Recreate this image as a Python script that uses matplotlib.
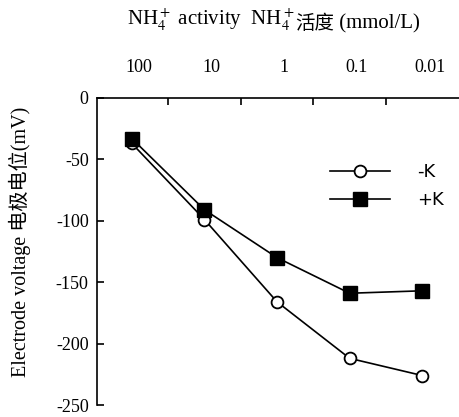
import matplotlib.pyplot as plt

plt.rcParams['mathtext.fontset'] = 'stix'
plt.rcParams['axes.unicode_minus'] = False

conc_labels = ['100', '10', '1', '0.1', '0.01']
minus_k = [-37, -99, -166, -212, -226]
plus_k = [-33, -91, -130, -159, -157]

serif = ['Liberation Serif', 'Noto Sans CJK SC']

fig = plt.figure(figsize=(4.6, 4.17), dpi=100)
ax = fig.add_axes([97 / 460, 1 - 405 / 417, 1 - 97 / 460, (405 - 98) / 417])

x = list(range(len(conc_labels)))
ax.plot(x, minus_k, '-', color='black', lw=1.2, marker='o', ms=8.5,
        mfc='white', mec='black', mew=1.3, label='-K')
ax.plot(x, plus_k, '-', color='black', lw=1.2, marker='s', ms=9.5,
        mfc='black', mec='black', label='+K')

ax.set_xlim(-0.48, 4.52)
ax.set_ylim(-250, 0)

# only top and left spines
ax.spines['bottom'].set_visible(False)
ax.spines['right'].set_visible(False)
ax.spines['top'].set_linewidth(1.2)
ax.spines['left'].set_linewidth(1.2)

ax.xaxis.tick_top()
ax.set_xticks([0.5, 1.5, 2.5, 3.5])
ax.set_xticklabels([])
ax.tick_params(axis='x', direction='in', length=5, width=1.2)
for xi, lab in zip(x, conc_labels):
    ax.text(xi + 0.1, 1.1, lab, transform=ax.get_xaxis_transform(),
            ha='center', va='center', fontsize=13, family=serif)

ax.set_yticks([0, -50, -100, -150, -200, -250])
ax.tick_params(axis='y', direction='in', length=5, width=1.2, labelsize=13,
               pad=6)
for t in ax.get_yticklabels():
    t.set_family(serif)

# title in pieces: mathtext can't do CJK
t1 = fig.text(127 / 460, 1 - 26 / 417, r'NH$_4^+$ activity  NH$_4^+$',
              ha='left', va='baseline', fontsize=15, family=serif)
t2 = ax.annotate('活度', xy=(1, 0), xycoords=t1, ha='left', va='bottom',
                 fontsize=14, family=serif)
ax.annotate(' (mmol/L)', xy=(1, 0), xycoords=t2, ha='left', va='bottom',
            fontsize=15, family=serif)

fig.text(20 / 460, 1 - 242 / 417, 'Electrode voltage 电极电位(mV)',
         rotation=90, ha='center', va='center', fontsize=14.5, family=serif)

ax.legend(loc='upper right', bbox_to_anchor=(1.0, 0.84), frameon=False,
          handlelength=3.3, fontsize=13, handletextpad=1.5, labelspacing=0.55)

fig.savefig('out.png', dpi=100)
